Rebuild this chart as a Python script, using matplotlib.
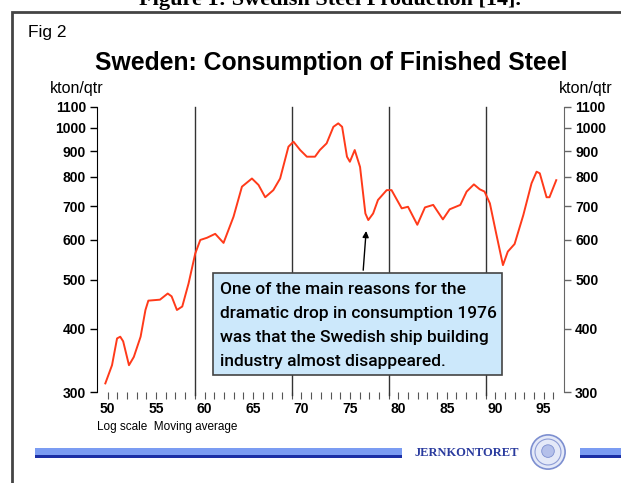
import matplotlib.pyplot as plt
from matplotlib.patches import Rectangle, Circle

# Data (year, kton per quarter, moving average)
years = [1949.76, 1950.45, 1950.97, 1951.3, 1951.6, 1952.2, 1952.7, 1953.4, 1953.9,
         1954.2, 1955.4, 1956.2, 1956.6, 1957.15, 1957.7, 1958.35, 1959.04, 1959.56,
         1960.25, 1961.1, 1961.96, 1962.99, 1963.86, 1964.89, 1965.57, 1966.26, 1967.1,
         1967.8, 1968.66, 1969.18, 1969.87, 1970.56, 1971.4, 1971.9, 1972.6, 1973.3,
         1973.8, 1974.2, 1974.7, 1975.0, 1975.5, 1976.05, 1976.6, 1976.9, 1977.4,
         1977.9, 1978.8, 1979.3, 1980.35, 1981.0, 1981.96, 1982.75, 1983.6, 1984.6,
         1985.3, 1986.4, 1987.05, 1987.8, 1988.4, 1988.9, 1989.45, 1990.1, 1990.8,
         1991.3, 1992.0, 1992.9, 1993.75, 1994.27, 1994.6, 1995.3, 1995.6, 1996.3]
consumption = [312, 339, 383, 386, 378, 339, 352, 386, 436,
               455, 457, 470, 464, 436, 443, 492, 564, 600,
               606, 617, 592, 667, 765, 794, 771, 729, 753,
               794, 918, 939, 904, 877, 877, 904, 932, 1005,
               1021, 1005, 877, 857, 904, 837, 677, 657, 677,
               720, 753, 753, 693, 698, 643, 696, 704, 659,
               690, 704, 748, 773, 756, 748, 709, 618, 535,
               569, 589, 672, 777, 819, 813, 729, 729, 788]

y_ticks = [300, 400, 500, 600, 700, 800, 900, 1000, 1100]
x_labels = ['50', '55', '60', '65', '70', '75', '80', '85', '90', '95']
decade_lines = [1959, 1969, 1979, 1989]

W, H = 621, 483

def fx(x):
    return x / W

def fy(y):
    return 1 - y / H

plt.rcParams['font.family'] = ['Liberation Sans', 'DejaVu Sans']

fig = plt.figure(figsize=(W / 100, H / 100), dpi=100)

# Plot area
ax = fig.add_axes([fx(97), fy(392), fx(564 - 97), (392 - 107) / H])
ax.set_yscale('log')
ax.set_ylim(300, 1100)
ax.set_xlim(1948.9, 1997.1)

ax.plot(years, consumption, color='#ff3a1a', linewidth=1.4, zorder=3)

for yr in decade_lines:
    ax.axvline(yr, ymin=-0.012, ymax=1, color='#333333', linewidth=1.0,
               clip_on=False, zorder=2)

ax.spines['top'].set_visible(False)
ax.spines['bottom'].set_visible(False)
ax.spines['right'].set_visible(False)
ax.spines['left'].set_color('black')

ax.set_yticks(y_ticks)
ax.set_yticklabels([str(v) for v in y_ticks], fontweight='bold', fontsize=10)
ax.yaxis.set_minor_locator(plt.NullLocator())
ax.tick_params(axis='y', direction='out', length=5, width=1, pad=3)

ax.set_xticks(range(1950, 1997))
ax.set_xticklabels([x_labels[(y - 1950) // 5] if (y - 1950) % 5 == 0 else ''
                    for y in range(1950, 1997)], fontweight='bold', fontsize=10)
ax.tick_params(axis='x', direction='out', length=5, width=0.8, color='#555555', pad=2)

# Right-hand axis with the same scale
ax2 = ax.twinx()
ax2.set_yscale('log')
ax2.set_ylim(300, 1100)
ax2.set_yticks(y_ticks)
ax2.set_yticklabels([str(v) for v in y_ticks], fontweight='bold', fontsize=10)
ax2.yaxis.set_minor_locator(plt.NullLocator())
ax2.tick_params(axis='y', direction='out', length=5, width=1, color='#666666', pad=3)
for s in ['top', 'bottom', 'left']:
    ax2.spines[s].set_visible(False)
ax2.spines['right'].set_color('#666666')

# Annotation box and arrow
tip = (1976.7, 633)
ax.annotate('', xy=tip, xycoords='data',
            xytext=(fx(363), fy(273)), textcoords='figure fraction',
            arrowprops=dict(arrowstyle='-|>', color='black', lw=1.0,
                            mutation_scale=9), zorder=5)
fig.patches.append(Rectangle((fx(213), fy(375)), fx(502 - 213), (375 - 273) / H,
                             transform=fig.transFigure, facecolor='#cce8fb',
                             edgecolor='#444444', linewidth=1.2, zorder=4))
note = ['One of the main reasons for the',
        'dramatic drop in consumption 1976',
        'was that the Swedish ship building',
        'industry almost disappeared.']
for i, line in enumerate(note):
    fig.text(fx(220), fy(290 + i * 23.7), line, ha='left', va='center',
             fontsize=12.5, fontweight='medium',
             family=['Roboto', 'Liberation Sans', 'DejaVu Sans'],
             zorder=6)

# Texts around the chart
fig.text(fx(330), fy(5), 'Figure 1: Swedish Steel Production [14].', ha='center',
         va='baseline', fontsize=16, fontweight='bold',
         family=['Liberation Serif', 'DejaVu Serif'])
fig.text(fx(28), fy(33), 'Fig 2', ha='left', va='center', fontsize=12.5)
fig.text(fx(331), fy(63), 'Sweden: Consumption of Finished Steel', ha='center',
         va='center', fontsize=17.8, fontweight='bold')
fig.text(fx(50), fy(89), 'kton/qtr', ha='left', va='center', fontsize=11.5)
fig.text(fx(612), fy(89), 'kton/qtr', ha='right', va='center', fontsize=11.5)
fig.text(fx(97), fy(427), 'Log scale  Moving average', ha='left', va='center',
         fontsize=8.5)

# Outer frame
fig.patches.append(Rectangle((fx(12), fy(500)), fx(640), (500 - 12) / H,
                             transform=fig.transFigure, fill=False,
                             edgecolor='#444444', linewidth=2, clip_on=False))

# Bottom band with JERNKONTORET mark
for x0, x1 in [(35, 402), (580, 630)]:
    fig.patches.append(Rectangle((fx(x0), fy(455)), fx(x1 - x0), 7 / H,
                                 transform=fig.transFigure, facecolor='#7b9cf2',
                                 edgecolor='none'))
    fig.patches.append(Rectangle((fx(x0), fy(458)), fx(x1 - x0), 3 / H,
                                 transform=fig.transFigure, facecolor='#1b2fa5',
                                 edgecolor='none'))
fig.text(fx(467), fy(453), 'JERNKONTORET', ha='center', va='center', fontsize=9,
         fontweight='bold', color='#2a3b9e', family=['Liberation Serif', 'DejaVu Serif'])
logo = fig.add_axes([fx(530), fy(470), fx(36), 36 / H])
logo.set_xlim(-1, 1)
logo.set_ylim(-1, 1)
logo.set_aspect('equal')
logo.axis('off')
logo.add_patch(Circle((0, 0), 0.95, facecolor='#e4e9f8', edgecolor='#7d8fd0', lw=1.2))
logo.add_patch(Circle((0, 0), 0.72, facecolor='none', edgecolor='#8e9dd6', lw=0.8))
logo.add_patch(Circle((0, 0.05), 0.35, facecolor='#b4c0ea', edgecolor='#7d8fd0', lw=0.6))

fig.savefig('out.png', dpi=100)
